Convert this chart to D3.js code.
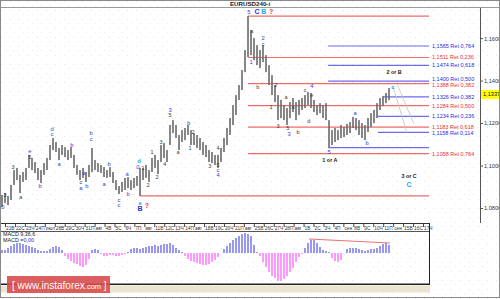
<!DOCTYPE html>
<html>
<head>
<meta charset="utf-8">
<script src="https://cdnjs.cloudflare.com/ajax/libs/d3/7.8.5/d3.min.js"></script>
<style>
body{margin:0;background:#fff}
svg{display:block;font-family:"Liberation Sans",Arial,sans-serif}
</style>
</head>
<body>
<svg id="chart"></svg>
<script>
// EURUSD 4H bars (high / low per bar)
const highs = [1.0864,1.0873,1.0859,1.0911,1.0981,1.0991,1.0958,1.0972,1.0991,1.1052,
1.1038,1.1019,1.0991,1.0981,1.1014,1.1038,1.1099,1.1132,1.1113,1.1085,
1.1099,1.1089,1.1075,1.1089,1.1052,1.1005,1.0981,1.0991,1.0972,1.1005,
1.1085,1.1028,1.1014,1.1005,1.0995,1.0981,1.0995,1.0972,1.0934,1.0906,
1.0925,1.0944,1.0948,1.0934,1.0944,1.0953,1.0991,1.0991,1.1005,1.0981,
1.1038,1.1052,1.1028,1.1099,1.1108,1.1075,1.1193,1.1216,1.1193,1.1146,
1.1169,1.1179,1.1193,1.1169,1.1155,1.1146,1.1132,1.1113,1.1099,1.1075,
1.1066,1.1052,1.1052,1.1085,1.1132,1.1179,1.1226,1.1287,1.1334,1.1381,
1.1452,1.1546,1.1706,1.1640,1.1602,1.1569,1.1546,1.1569,1.1522,1.1475,
1.1428,1.1381,1.1334,1.1311,1.1287,1.1273,1.1301,1.1320,1.1301,1.1311,
1.1320,1.1334,1.1348,1.1344,1.1311,1.1287,1.1296,1.1287,1.1296,1.1216,
1.1169,1.1179,1.1169,1.1193,1.1184,1.1198,1.1207,1.1231,1.1226,1.1216,
1.1202,1.1193,1.1226,1.1249,1.1264,1.1296,1.1320,1.1329,1.1344,1.1367];
const lows = [1.0807,1.0826,1.0816,1.0840,1.0911,1.0934,1.0873,1.0925,1.0934,1.0991,
1.0981,1.0967,1.0934,1.0920,1.0958,1.0981,1.1028,1.1075,1.1066,1.1028,
1.1052,1.1042,1.1028,1.1038,1.0991,1.0958,1.0934,1.0944,1.0925,1.0948,
1.0972,1.0981,1.0972,1.0967,1.0948,1.0944,1.0948,1.0920,1.0887,1.0868,
1.0878,1.0887,1.0896,1.0887,1.0896,1.0906,1.0859,1.0934,1.0944,1.0925,
1.0972,1.0991,1.0962,1.1019,1.1038,1.1019,1.1099,1.1155,1.1132,1.1075,
1.1113,1.1122,1.1146,1.1099,1.1099,1.1085,1.1075,1.1052,1.1042,1.1019,
1.1014,1.1005,1.0991,1.1019,1.1066,1.1099,1.1146,1.1193,1.1240,1.1311,
1.1358,1.1442,1.1513,1.1522,1.1499,1.1475,1.1461,1.1489,1.1442,1.1381,
1.1334,1.1301,1.1216,1.1226,1.1216,1.1193,1.1226,1.1254,1.1216,1.1240,
1.1264,1.1273,1.1287,1.1273,1.1254,1.1240,1.1249,1.1226,1.1216,1.1089,
1.1099,1.1113,1.1122,1.1132,1.1136,1.1146,1.1155,1.1179,1.1169,1.1146,
1.1132,1.1122,1.1160,1.1184,1.1202,1.1226,1.1264,1.1282,1.1296,1.1311];
const lastPrice = 1.1337;

// MACD histogram, pips
const macd = [6,6,10,14,18,20,20,18,16,14,12,10,6,4,4,4,8,12,14,12,
6,-6,-12,-16,-20,-22,-26,-28,-24,-12,6,8,6,-2,-6,-6,-4,-4,-6,-6,
-4,-2,2,8,10,10,8,10,12,14,14,16,14,16,18,18,20,16,10,6,
2,-6,-12,-16,-18,-20,-22,-24,-24,-22,-18,-14,-8,0,8,14,20,26,30,34,
38,40,38,34,16,2,-6,-18,-28,-38,-46,-50,-56,-56,-52,-46,-38,-30,-18,-8,
-2,10,20,26,26,20,12,6,4,2,-10,-16,-18,-14,0,8,10,10,10,8,
6,4,6,8,8,10,14,18,20,16];
const macdTrend = [[102.3,28],[129.3,20]];

const dayLabels = ["21В","22С","23Ч","24П","июл","28В","29С","30Ч","31П","авг",
"4В","5С","6Ч","7П","авг","11В","12С","13Ч","14П","авг","18В","19С","20Ч","21П","авг",
"25В","26С","27Ч","28П","авг","1В","2С","3Ч","4П","сен","8В","9С","10Ч","11П","сен",
"15В","16С","17Ч"];
const priceTicks = [1.08,1.10,1.12,1.14,1.16];

// fibonacci grids
const redHigh = [82,1.1706], redLow = [46,1.0859];
const fibRed = [1.1511,1.1388,1.1284,1.1183,1.1058];
const fibRedRatio = ["0,236","0,382","0,500","0,618","0,764"];
const fibBlueBase = 1.1087;
const fibBlue = [1.1565,1.1474,1.1400,1.1326,1.1234,1.1158];
const fibBlueRatio = ["0,764","0,618","0,500","0,382","0,236","0,114"];
const fibBlueFrom = [108.7,108.7,108.7,127,125,125.3];
const projLines = [[[130.3,1.1376],[135,1.1155]],[[131.7,1.1386],[137.3,1.1198]]];

// wave count labels [bar, price, text]
const darkLabels = [[1,1.0864,"3"],[3.7,1.0995,"3"],[6.3,1.0854,"a"],[9.3,1.1042,"5"],[26.3,1.0925,"c"],
[39,1.0840,"c"],[47,1.0991,"1"],[48.7,1.0911,"2"],[50,1.1066,"1"],[51.7,1.0948,"2"],[53,1.1113,"3"],
[54.3,1.1009,"4"],[56,1.1240,"5"],[58.7,1.1066,"a"],[62.3,1.1202,"b"],[63.7,1.1160,"2"],[62.7,1.1085,"1"],
[69.3,1.1000,"3"],[72,1.1005,"5"],[72,1.1085,"4"],[83.3,1.1635,"a"],[87,1.1574,"c"],[85.3,1.1372,"b"],
[91.3,1.1381,"2"],[89.7,1.1278,"1"],[92,1.1188,"3"],[94.7,1.1325,"a"],[95.3,1.1179,"5"],[97,1.1278,"a"],
[98.7,1.1160,"b"],[102.3,1.1212,"d"],[101,1.1358,"c"],[103.3,1.1334,"e"]];
const blueLabels = [[0.3,1.0807,"0"],[9.3,1.1071,"e"],[12.7,1.0906,"b"],[16.7,1.1151,"c"],[19,1.1009,"a"],
[23.3,1.1099,"b"],[27.3,1.0967,"a"],[26.3,1.0896,"a"],[28.3,1.0906,"b"],[29.7,1.1155,"b"],[29.7,1.1127,"c"],
[35.7,1.1009,"b"],[34,1.0915,"a"],[42,1.0868,"b"],[41.7,1.0962,"a"],[39,1.0816,"c"],[45.3,1.0995,"0"],
[56,1.1264,"3"],[72,1.0981,"c"],[72,1.0958,"4"],[82.3,1.1725,"5"],[87,1.1602,"2"],[83,1.1489,"1"],
[95.7,1.1151,"3"],[103.3,1.1376,"4"],[109,1.1066,"5"],[117.7,1.1249,"a"],[121.7,1.1108,"b"]];
const cyanLabels = [[16.7,1.1174,"d"],[45.7,1.1024,"d"],[46,1.0826,"e"],[130.3,1.1372,"c"]];
const bigBlue = [[85,1.1725,"C"],[46,1.0798,"B"]];
const bigCyan = [[87.3,1.1725,"B"],[135.7,1.0915,"C"]];
const bigRed = [[89.7,1.1725,"?"],[48.3,1.0816,"?"]];
const scenarioLabels = [[109.3,1.1028,"1 or A"],[130.7,1.1442,"2 or B"],[135.7,1.0953,"3 or C"]];

const W = 500, H = 299, panelRight = 429, axisX = 480;
const svg = d3.select("#chart").attr("width", W).attr("height", H);
const fmt = v => d3.format(".4f")(v).replace(".",",");

let defs = svg.append("defs");
let pat = defs.append("pattern").attr("id","dots").attr("width",9).attr("height",9)
  .attr("patternUnits","userSpaceOnUse");
pat.append("rect").attr("x",1).attr("y",1).attr("width",1).attr("height",1).attr("fill","#e4e4e4");
pat.append("rect").attr("x",5).attr("y",5).attr("width",1).attr("height",1).attr("fill","#ececec");

svg.append("rect").attr("width",W).attr("height",H).attr("fill","#fff");
svg.append("rect").attr("width",W).attr("height",H).attr("fill","url(#dots)");

let x = d3.scaleLinear().domain([0, highs.length-1]).range([2, 389]);
let xDay = d3.scaleLinear().domain([0, dayLabels.length-1]).range([7, 425]);
let y = d3.scaleLinear().domain([1.0727, 1.1744]).range([224, 8]);
let ym = d3.scaleLinear().domain([-60, 42]).range([283, 232]);

// title
svg.append("line").attr("x1",0).attr("x2",W).attr("y1",7.5).attr("y2",7.5).attr("stroke","#9a9a9a");
svg.append("text").attr("x",250).attr("y",6).attr("text-anchor","middle")
  .attr("font-size",6.2).attr("font-weight","bold").attr("fill","#222").text("EURUSD240-i");

// fibonacci lines
let fib = svg.append("g");
let fibLabels = [];
[redHigh, redLow].forEach(p=>{
  fib.append("line").attr("x1",x(p[0])).attr("x2",panelRight).attr("y1",y(p[1])).attr("y2",y(p[1]))
    .attr("stroke","#f26b6b").attr("stroke-width",1.2);
});
fibRed.forEach((v,i)=>{
  fib.append("line").attr("x1",x(redHigh[0])).attr("x2",panelRight).attr("y1",y(v)).attr("y2",y(v))
    .attr("stroke","#f26b6b").attr("stroke-width",1.2);
  fibLabels.push({ly:y(v), c:"#e83030", t:fmt(v)+" Ret "+fibRedRatio[i]});
});
fib.append("line").attr("x1",x(fibBlueFrom[0])).attr("x2",panelRight).attr("y1",y(fibBlueBase)).attr("y2",y(fibBlueBase))
  .attr("stroke","#6b6bf0").attr("stroke-width",1.2);
fibBlue.forEach((v,i)=>{
  fib.append("line").attr("x1",x(fibBlueFrom[i])).attr("x2",panelRight).attr("y1",y(v)).attr("y2",y(v))
    .attr("stroke","#6b6bf0").attr("stroke-width",1.2);
  fibLabels.push({ly:y(v), c:"#2b2bd8", t:fmt(v)+" Ret "+fibBlueRatio[i]});
});
// keep the level captions from sitting on top of each other
fibLabels.sort((a,b)=>a.ly-b.ly);
for (let i=1;i<fibLabels.length;i++){
  let gap = fibLabels[i].ly - fibLabels[i-1].ly;
  if (gap < 6) { fibLabels[i-1].ly -= (6-gap)/2; fibLabels[i].ly += (6-gap)/2; }
}
fib.selectAll("text").data(fibLabels).enter().append("text")
  .attr("x",panelRight+3).attr("y",d=>d.ly).attr("dy","0.35em").attr("font-size",5.5)
  .attr("fill",d=>d.c).text(d=>d.t);
projLines.forEach(p=>{
  fib.append("line").attr("x1",x(p[0][0])).attr("y1",y(p[0][1])).attr("x2",x(p[1][0])).attr("y2",y(p[1][1]))
    .attr("stroke","#c4c4c4").attr("stroke-width",0.8);
});

// bars
svg.append("g").selectAll("rect").data(highs).enter().append("rect")
  .attr("x",(d,i)=>x(i)-0.8).attr("width",1.6)
  .attr("y",d=>y(d)).attr("height",(d,i)=>Math.max(1,y(lows[i])-y(d)))
  .attr("fill","#6a6a6a");

// wave labels
const labelSets = [
  [darkLabels,"#3a3a3a",5.5,"normal"],
  [blueLabels,"#3a3ad8",5.8,"normal"],
  [cyanLabels,"#1fa6df",5.8,"bold"],
  [bigBlue,"#2f2fd0",7,"bold"],
  [bigCyan,"#1fa6df",7,"bold"],
  [bigRed,"#f03c3c",7,"bold"],
  [scenarioLabels,"#1a1a1a",5.4,"bold"]
];
labelSets.forEach(s=>{
  svg.append("g").selectAll("text").data(s[0]).enter().append("text")
    .attr("x",d=>x(d[0])).attr("y",d=>y(d[1])).attr("dy","0.35em").attr("text-anchor","middle")
    .attr("font-size",s[2]).attr("font-weight",s[3]).attr("fill",s[1]).text(d=>d[2]);
});

// price axis
let ax = svg.append("g");
ax.append("line").attr("x1",axisX+0.5).attr("x2",axisX+0.5).attr("y1",8).attr("y2",223).attr("stroke","#555");
priceTicks.forEach(v=>{
  ax.append("line").attr("x1",axisX).attr("x2",axisX+3).attr("y1",y(v)).attr("y2",y(v)).attr("stroke","#555");
  ax.append("text").attr("x",axisX+4).attr("y",y(v)).attr("dy","0.35em").attr("font-size",5.6)
    .attr("fill","#333").text(fmt(v));
});
ax.append("rect").attr("x",axisX+1).attr("y",y(lastPrice)-4.5).attr("width",19).attr("height",9).attr("fill","#ffff00");
ax.append("text").attr("x",axisX+3).attr("y",y(lastPrice)).attr("dy","0.35em").attr("font-size",5.6)
  .attr("fill","#111").text(fmt(lastPrice));

// time axis strip
let tx = svg.append("g");
tx.append("line").attr("x1",0).attr("x2",panelRight).attr("y1",223.5).attr("y2",223.5).attr("stroke","#333");
tx.append("line").attr("x1",0).attr("x2",panelRight).attr("y1",231.5).attr("y2",231.5).attr("stroke","#555");
dayLabels.forEach((t,i)=>{
  tx.append("line").attr("x1",xDay(i)-1.5).attr("x2",xDay(i)-1.5).attr("y1",224).attr("y2",227).attr("stroke","#444");
  tx.append("text").attr("x",xDay(i)-1).attr("y",229.5).attr("font-size",4.8).attr("fill","#333").text(t);
});

// MACD panel
let mp = svg.append("g");
mp.selectAll("rect").data(macd).enter().append("rect")
  .attr("x",(d,i)=>x(i)-0.8).attr("width",1.6)
  .attr("y",d=>d>=0?ym(d):ym(0)).attr("height",d=>Math.abs(ym(d)-ym(0)))
  .attr("fill",d=>d>=0?"#7f7ff0":"#ff80ff");
mp.append("line").attr("x1",x(macdTrend[0][0])).attr("y1",ym(macdTrend[0][1]))
  .attr("x2",x(macdTrend[1][0])).attr("y2",ym(macdTrend[1][1])).attr("stroke","#f07070").attr("stroke-width",1);
mp.append("text").attr("x",3).attr("y",236).attr("font-size",5.4).attr("fill","#222").text("MACD 9,36,6");
let mt = mp.append("text").attr("x",3).attr("y",242).attr("font-size",5.4).attr("fill","#222");
mt.append("tspan").text("MACD =");
mt.append("tspan").attr("fill","#2b2bd8").text("0,00");
mp.append("line").attr("x1",panelRight+0.5).attr("x2",panelRight+0.5).attr("y1",223).attr("y2",285).attr("stroke","#222");
mp.append("rect").attr("x",0).attr("y",283.5).attr("width",panelRight+1).attr("height",1.5).attr("fill","#222");
mp.append("rect").attr("x",0).attr("y",285.5).attr("width",panelRight+1).attr("height",7).attr("fill","#e9e5d0");

// watermark
let wm = svg.append("g");
wm.append("rect").attr("x",7).attr("y",276).attr("width",103).attr("height",17).attr("fill","#d94c4c").attr("opacity",0.9);
let wt = wm.append("text").attr("x",12).attr("y",289).attr("font-size",10).attr("fill","#fff");
wt.append("tspan").text("[ www.instaforex");
wt.append("tspan").attr("font-size",7.5).text(".com");
wt.append("tspan").text(" ]");

// outer frame
svg.append("rect").attr("x",0.5).attr("y",0.5).attr("width",W-1).attr("height",H-2).attr("fill","none").attr("stroke","#8a8a8a");
</script>
</body>
</html>
